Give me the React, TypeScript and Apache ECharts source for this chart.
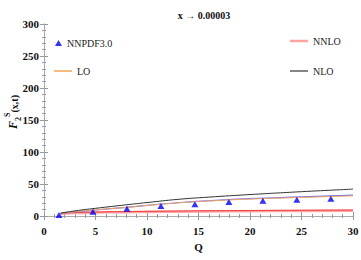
import React, { useEffect, useRef } from 'react';
import * as echarts from 'echarts';

const titleText = 'x → 0.00003';
const xTicks = [0, 5, 10, 15, 20, 25, 30];
const yTicks = [0, 50, 100, 150, 200, 250, 300];
const qGrid = [1.6, 3, 5, 8, 10, 13, 16, 20, 25, 30];
const loValues = [4, 6.5, 9.5, 13.5, 16.5, 20.5, 23.5, 26.5, 29, 31.5];
const blueValues = [3.8, 6.4, 9.4, 13.6, 16.7, 20.7, 23.8, 27, 29.8, 32.5];
const nloValues = [4.5, 8, 12, 17.5, 21, 26, 29.5, 33.5, 38, 42];
const nnloValues = [3.2, 4.6, 5.4, 6, 6.4, 6.8, 7.1, 7.5, 7.9, 8.3];
const redValues = [3.8, 5.4, 6.2, 6.9, 7.3, 7.8, 8.2, 8.6, 9, 9.4];
const nnpdfQ = [1.45, 4.75, 8.05, 11.35, 14.65, 17.95, 21.25, 24.55, 27.85];
const nnpdfValues = [1.6, 6.7, 11.5, 15.5, 18.5, 22, 24, 25.5, 27];

const serif = '"Liberation Serif", "DejaVu Serif", serif';

function pairs(xs: number[], ys: number[]) {
  return xs.map((x, i) => [x, ys[i]]);
}

export default function App() {
  const ref = useRef<HTMLDivElement>(null);
  useEffect(() => {
    if (!ref.current) return;
    const chart = echarts.init(ref.current, undefined, { renderer: 'svg' });
    const axisLine = { show: true, lineStyle: { color: '#aaaaaa', width: 1 } };
    const tickStyle = { color: '#999999', width: 1 };
    const legendBase = {
      orient: 'vertical' as const,
      padding: 0,
      itemGap: 18,
      textStyle: { fontFamily: serif, fontSize: 10, color: '#222' },
      selectedMode: false,
    };
    chart.setOption({
      animation: false,
      title: {
        text: titleText,
        left: 199,
        top: 5,
        textAlign: 'center',
        textStyle: { fontFamily: serif, fontSize: 10, fontWeight: 'bold', color: '#111' },
      },
      legend: [
        { ...legendBase, data: [{ name: 'NNPDF3.0', icon: 'triangle' }], left: 55, top: 38, itemWidth: 7, itemHeight: 6 },
        { ...legendBase, data: [{ name: 'LO', icon: 'rect' }], left: 54, top: 66, itemWidth: 18, itemHeight: 1.5 },
        { ...legendBase, data: [{ name: 'NNLO', icon: 'rect' }], left: 290, top: 36, itemWidth: 18, itemHeight: 2.5 },
        { ...legendBase, data: [{ name: 'NLO', icon: 'rect' }], left: 290, top: 66, itemWidth: 18, itemHeight: 1.2 },
      ],
      grid: { left: 44, right: 8, top: 24, bottom: 44, outerBoundsMode: 'none', containLabel: false },
      xAxis: [
        {
          type: 'value', min: 0, max: 30, interval: 5,
          name: 'Q', nameLocation: 'middle', nameGap: 25, nameMoveOverlap: false,
          nameTextStyle: { fontFamily: serif, fontSize: 11, fontWeight: 'bold', color: '#111' },
          axisLine,
          axisTick: { show: true, inside: true, length: 4, lineStyle: tickStyle },
          minorTick: { show: true, splitNumber: 5, length: 2, lineStyle: tickStyle },
          splitLine: { show: false },
          axisLabel: {
            fontFamily: serif, fontSize: 11, fontWeight: 'bold', color: '#111', margin: 9,
            formatter: (v: number) => (xTicks.includes(v) ? String(v) : ''),
          },
        },
        {
          type: 'value', min: 0, max: 30, interval: 5, position: 'top',
          axisLine,
          axisTick: { show: true, inside: true, length: 4, lineStyle: tickStyle },
          minorTick: { show: true, splitNumber: 5, length: 2, lineStyle: tickStyle },
          splitLine: { show: false },
          axisLabel: { show: false },
        },
      ],
      yAxis: [
        {
          type: 'value', min: 0, max: 300, interval: 50,
          name: '{f|F}{sub|2}{sup|S}{n|(x,t)}', nameLocation: 'middle', nameGap: 25, nameRotate: 90,
          nameMoveOverlap: false,
          nameTextStyle: {
            padding: [0, 0, 0, 16],
            rich: {
              f: { fontFamily: serif, fontSize: 12, fontStyle: 'italic', fontWeight: 'bold', color: '#111', lineHeight: 16, verticalAlign: 'bottom' },
              sub: { fontFamily: serif, fontSize: 8, fontWeight: 'bold', color: '#111', lineHeight: 16, verticalAlign: 'bottom', padding: [0, 0, -3, 0] },
              sup: { fontFamily: serif, fontSize: 8, fontWeight: 'bold', color: '#111', lineHeight: 16, verticalAlign: 'top' },
              n: { fontFamily: serif, fontSize: 10, fontWeight: 'bold', color: '#111', lineHeight: 16, verticalAlign: 'bottom' },
            },
          },
          axisLine,
          axisTick: { show: true, inside: true, length: 4, lineStyle: tickStyle },
          minorTick: { show: true, splitNumber: 5, length: 2, lineStyle: tickStyle },
          splitLine: { show: false },
          axisLabel: {
            fontFamily: serif, fontSize: 11, fontWeight: 'bold', color: '#111', margin: 5,
            formatter: (v: number) => (yTicks.includes(v) ? String(v) : ''),
          },
        },
        {
          type: 'value', min: 0, max: 300, interval: 50, position: 'right',
          axisLine,
          axisTick: { show: true, inside: true, length: 4, lineStyle: tickStyle },
          minorTick: { show: true, splitNumber: 5, length: 2, lineStyle: tickStyle },
          splitLine: { show: false },
          axisLabel: { show: false },
        },
      ],
      series: [
        {
          name: 'NNLO', type: 'line', smooth: true, symbol: 'none',
          data: pairs(qGrid, nnloValues),
          lineStyle: { color: '#ffa3a3', width: 2.5 }, itemStyle: { color: '#ffa3a3' }, z: 2,
        },
        {
          name: 'NNLO-central', type: 'line', smooth: true, symbol: 'none',
          data: pairs(qGrid, redValues),
          lineStyle: { color: '#ee3b3b', width: 1 }, z: 3,
        },
        {
          name: 'blue', type: 'line', smooth: true, symbol: 'none',
          data: pairs(qGrid, blueValues),
          lineStyle: { color: '#7070ff', width: 1.2 }, z: 3,
        },
        {
          name: 'LO', type: 'line', smooth: true, symbol: 'none',
          data: pairs(qGrid, loValues),
          lineStyle: { color: '#f2a65a', width: 1 }, itemStyle: { color: '#f2a65a' }, z: 4,
        },
        {
          name: 'NLO', type: 'line', smooth: true, symbol: 'none',
          data: pairs(qGrid, nloValues),
          lineStyle: { color: '#333333', width: 1 }, itemStyle: { color: '#333333' }, z: 4,
        },
        {
          name: 'NNPDF3.0', type: 'scatter', symbol: 'triangle', symbolSize: [7, 6],
          data: pairs(nnpdfQ, nnpdfValues),
          itemStyle: { color: '#0000ee' }, z: 5,
        },
      ],
    });
    return () => chart.dispose();
  }, []);
  return <div ref={ref} style={{ width: 361, height: 260, position: 'absolute', left: 0, top: 0 }} />;
}
